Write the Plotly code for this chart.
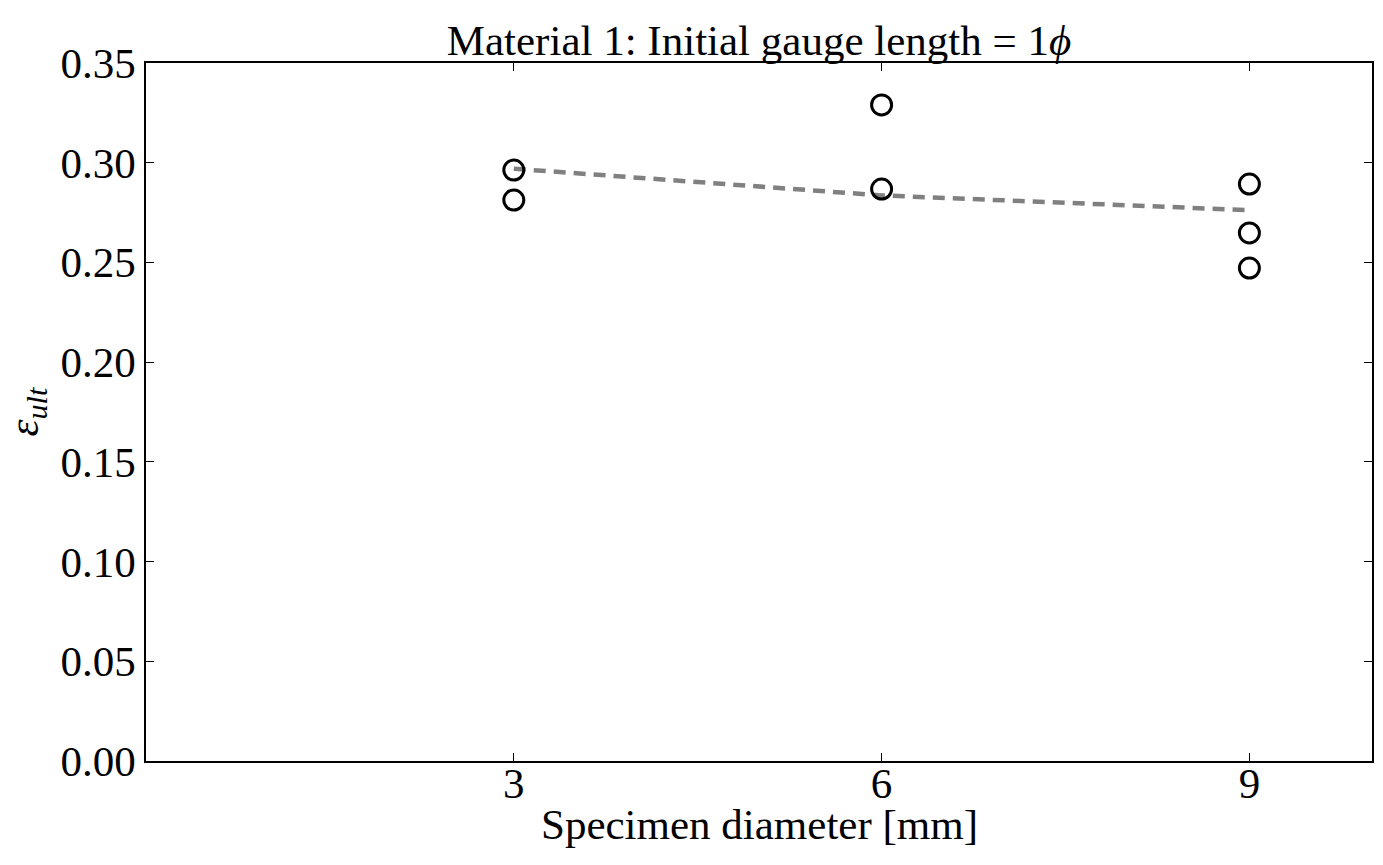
import plotly.graph_objects as go

diam_x = [3, 3, 6, 6, 9, 9, 9]
strain_y = [0.2963, 0.2813, 0.3290, 0.2868, 0.2893, 0.2648, 0.2472]
fit_x = [3, 6, 9]
fit_y = [0.2970, 0.2836, 0.2762]

FONT = "Liberation Serif"
FS = 43

fig = go.Figure()
fig.add_trace(go.Scatter(x=fit_x, y=fit_y, mode="lines",
                         line=dict(color="#808080", width=4.5, dash="12px,8px"),
                         showlegend=False, hoverinfo="skip"))
fig.add_trace(go.Scatter(x=diam_x, y=strain_y, mode="markers",
                         marker=dict(symbol="circle-open", size=20, color="black",
                                     line=dict(color="black", width=3)),
                         showlegend=False))

fig.update_layout(
    width=1383, height=865,
    margin=dict(l=146, r=9, t=63, b=104),
    plot_bgcolor="white", paper_bgcolor="white",
    font=dict(family=FONT, size=FS, color="black"),
    title=dict(text="Material 1: Initial gauge length = 1<i>ϕ</i>",
               xref="paper", x=0.5, xanchor="center",
               yref="paper", y=1, yanchor="bottom", pad=dict(b=8),
               font=dict(size=FS, family=FONT)),
    xaxis=dict(range=[0, 10], tickvals=[3, 6, 9], ticktext=["3", "6", "9"],
               ticks="inside", ticklen=8, tickwidth=1, tickcolor="black",
               showline=True, linecolor="black", linewidth=1.5, mirror="ticks",
               showgrid=False, zeroline=False, tickfont=dict(size=FS),
               ticklabelstandoff=-16),
    yaxis=dict(range=[0, 0.35], dtick=0.05, tickformat=".2f",
               ticks="inside", ticklen=8, tickwidth=1, tickcolor="black",
               showline=True, linecolor="black", linewidth=1.5, mirror="ticks",
               showgrid=False, zeroline=False, tickfont=dict(size=FS),
               title=dict(text="<i>ε</i><sub><i>ult</i></sub>", standoff=14, font=dict(size=FS))),
    annotations=[dict(text="Specimen diameter [mm]", xref="paper", yref="paper",
                      x=0.5, y=0, xanchor="center", yanchor="top", yshift=-38,
                      showarrow=False, font=dict(size=FS, family=FONT))],
)

fig.write_html("out.html")
